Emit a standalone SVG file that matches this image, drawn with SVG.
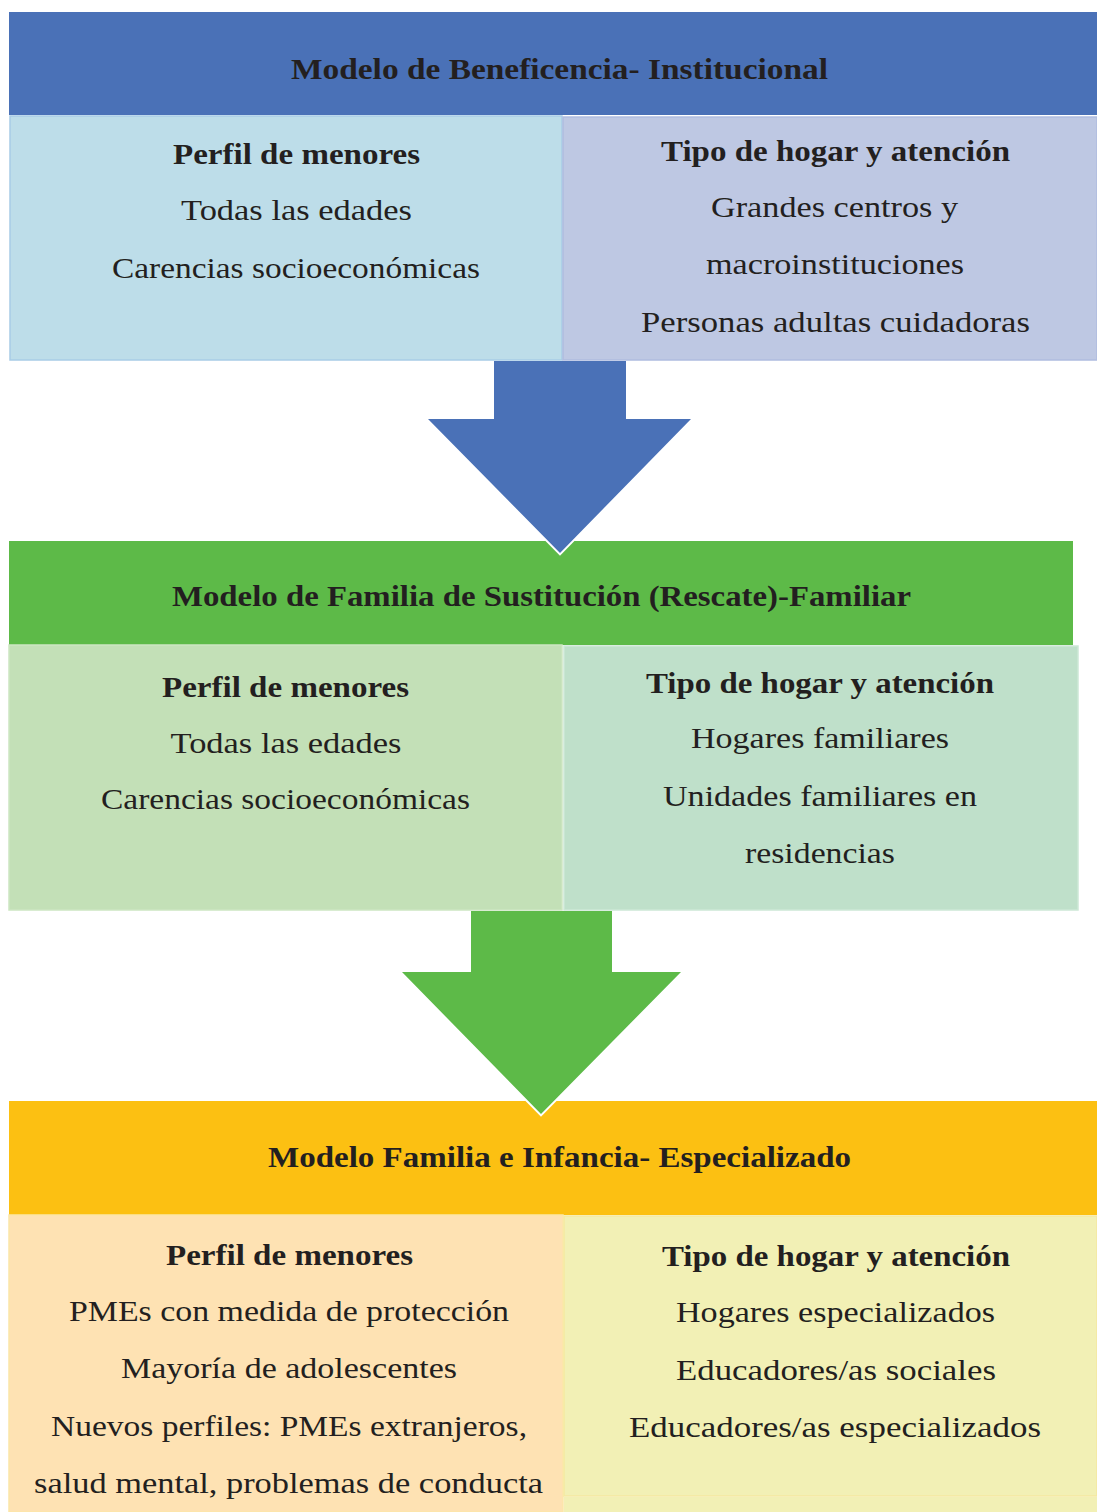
<svg xmlns="http://www.w3.org/2000/svg" width="1097" height="1512" viewBox="0 0 1097 1512">
<style>
text{font-family:"Liberation Serif","Times New Roman",serif;font-size:30px;fill:#231F20;text-anchor:middle}
.b{font-weight:bold}
</style>
<rect x="0" y="0" width="1097" height="1512" fill="#FFFFFF"/>
<g id="node-beneficencia">
<rect x="9" y="12" width="1088" height="103" fill="#4A71B7"/>
<text class="b" x="559.5" y="79" textLength="537" lengthAdjust="spacingAndGlyphs">Modelo de Beneficencia- Institucional</text>
</g>
<g id="node-beneficencia-perfil">
<rect x="10" y="116" width="552" height="244" fill="#BDDDE9" stroke="#A8CCE6" stroke-width="1.5"/>
<text class="b" x="296.5" y="164" textLength="247" lengthAdjust="spacingAndGlyphs">Perfil de menores</text>
<text x="296.5" y="220" textLength="231" lengthAdjust="spacingAndGlyphs">Todas las edades</text>
<text x="296" y="278" textLength="368" lengthAdjust="spacingAndGlyphs">Carencias socioeconómicas</text>
</g>
<g id="node-beneficencia-hogar">
<rect x="563" y="117" width="534" height="243" fill="#BEC8E3" stroke="#AFBCDF" stroke-width="1.5"/>
<text class="b" x="835.5" y="161" textLength="349" lengthAdjust="spacingAndGlyphs">Tipo de hogar y atención</text>
<text x="834.5" y="217" textLength="247" lengthAdjust="spacingAndGlyphs">Grandes centros y</text>
<text x="835" y="274" textLength="258" lengthAdjust="spacingAndGlyphs">macroinstituciones</text>
<text x="835.5" y="332" textLength="389" lengthAdjust="spacingAndGlyphs">Personas adultas cuidadoras</text>
</g>
<g id="node-sustitucion">
<rect x="9" y="541" width="1064" height="104" fill="#5DBA48"/>
<text class="b" x="541.5" y="606" textLength="739" lengthAdjust="spacingAndGlyphs">Modelo de Familia de Sustitución (Rescate)-Familiar</text>
</g>
<g id="node-sustitucion-perfil">
<rect x="9" y="645" width="553" height="265" fill="#C3E0B7" stroke="#CDE6C2" stroke-width="1.5"/>
<text class="b" x="285.5" y="697" textLength="247" lengthAdjust="spacingAndGlyphs">Perfil de menores</text>
<text x="286" y="753" textLength="231" lengthAdjust="spacingAndGlyphs">Todas las edades</text>
<text x="285.5" y="809" textLength="369" lengthAdjust="spacingAndGlyphs">Carencias socioeconómicas</text>
</g>
<g id="node-sustitucion-hogar">
<rect x="564" y="646" width="514" height="264" fill="#BFE0CA" stroke="#CDE8D6" stroke-width="1.5"/>
<text class="b" x="820" y="693" textLength="348" lengthAdjust="spacingAndGlyphs">Tipo de hogar y atención</text>
<text x="820" y="748" textLength="258" lengthAdjust="spacingAndGlyphs">Hogares familiares</text>
<text x="820" y="806" textLength="314" lengthAdjust="spacingAndGlyphs">Unidades familiares en</text>
<text x="820" y="863" textLength="150" lengthAdjust="spacingAndGlyphs">residencias</text>
</g>
<g id="node-especializado">
<rect x="9" y="1101" width="1088" height="114" fill="#FCC012"/>
<text class="b" x="559.5" y="1167" textLength="583" lengthAdjust="spacingAndGlyphs">Modelo Familia e Infancia- Especializado</text>
</g>
<g id="node-especializado-perfil">
<rect x="9" y="1215" width="554" height="297" fill="#FEE2B3" stroke="#FCE6A8" stroke-width="1.5"/>
<text class="b" x="289.5" y="1265" textLength="247" lengthAdjust="spacingAndGlyphs">Perfil de menores</text>
<text x="289" y="1321" textLength="440" lengthAdjust="spacingAndGlyphs">PMEs con medida de protección</text>
<text x="289" y="1378" textLength="336" lengthAdjust="spacingAndGlyphs">Mayoría de adolescentes</text>
<text x="289" y="1436" textLength="476" lengthAdjust="spacingAndGlyphs">Nuevos perfiles: PMEs extranjeros,</text>
<text x="288.5" y="1493" textLength="509" lengthAdjust="spacingAndGlyphs">salud mental, problemas de conducta</text>
</g>
<g id="node-especializado-hogar">
<rect x="564" y="1216" width="533" height="280" fill="#F2F0B5" stroke="#F5E9A0" stroke-width="1.5"/>
<rect x="564" y="1497" width="533" height="15" fill="#F2F0B5"/>
<text class="b" x="836" y="1266" textLength="348" lengthAdjust="spacingAndGlyphs">Tipo de hogar y atención</text>
<text x="835.5" y="1322" textLength="319" lengthAdjust="spacingAndGlyphs">Hogares especializados</text>
<text x="836" y="1380" textLength="320" lengthAdjust="spacingAndGlyphs">Educadores/as sociales</text>
<text x="835" y="1437" textLength="412" lengthAdjust="spacingAndGlyphs">Educadores/as especializados</text>
</g>
<g id="connectors">
<polyline points="428,419 560,553 691,419" fill="none" stroke="#FFFFFF" stroke-width="4"/>
<polygon points="494,361 626,361 626,419 691,419 560,553 428,419 494,419" fill="#4A71B7"/>
<polyline points="402,972 541,1114 681,972" fill="none" stroke="#FFFFFF" stroke-width="4"/>
<polygon points="471,911 612,911 612,972 681,972 541,1114 402,972 471,972" fill="#5DBA48"/>
</g>
</svg>
